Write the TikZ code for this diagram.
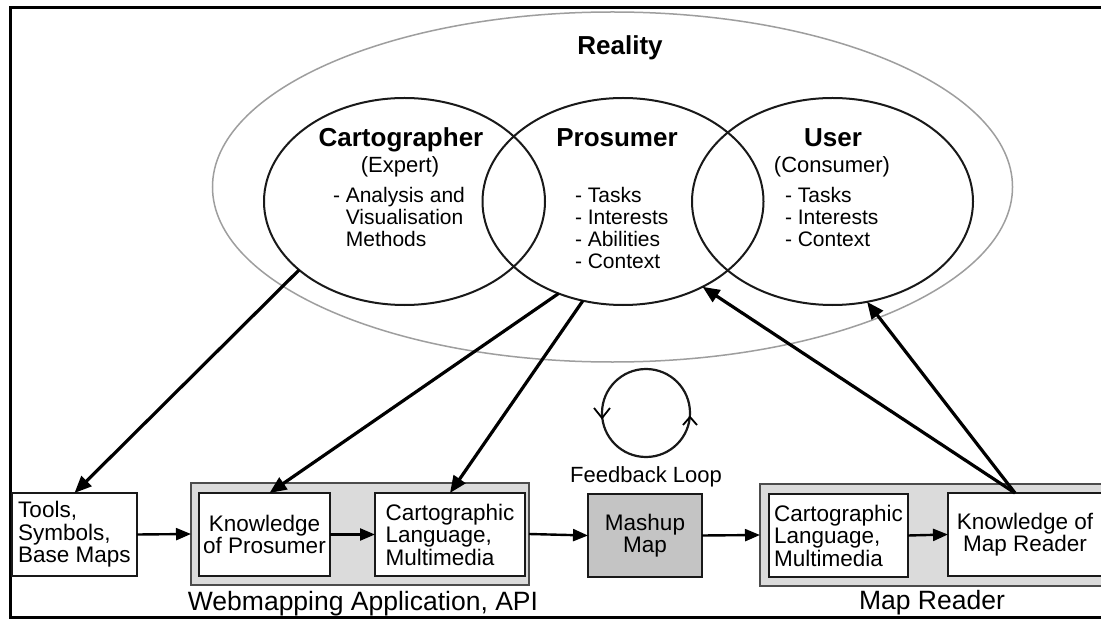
\documentclass[tikz,border=0pt]{standalone}
\usepackage{fontspec}
\setmainfont{Liberation Sans}
\usetikzlibrary{shapes.geometric,arrows.meta}
% stacked lines whose baseline is the baseline of the first line
\newcommand{\leftlines}[1]{\vtop{\halign{##\hfil\cr#1\crcr}}}

\begin{document}
\begin{tikzpicture}[x=1bp,y=-1bp,
  every node/.style={inner sep=0pt, outer sep=0pt},
  headtext/.style={font=\fontsize{26bp}{28bp}\selectfont\bfseries},
  subtext/.style={font=\fontsize{22bp}{24bp}\selectfont},
  listtext/.style={font=\fontsize{21bp}{21.7bp}\selectfont},
  labeltext/.style={font=\fontsize{26.5bp}{28bp}\selectfont},
  boxtext/.style={font=\fontsize{22.5bp}{22.5bp}\selectfont},
  venn/.style={ellipse, draw=black!90, line width=2bp, minimum width=281bp, minimum height=207bp},
  whitebox/.style={draw=black!90, line width=2bp, fill=white, minimum height=83bp, boxtext},
  graybox/.style={draw=black!70, line width=2.2bp, fill=black!14, minimum height=102bp},
  bigarrow/.style={line width=3.2bp, -{Triangle[length=17bp,width=14bp]}},
  smallarrow/.style={line width=2.4bp, -{Triangle[length=15bp,width=12bp]}}]

\useasboundingbox (0,0) rectangle (1101,619);
\clip (0,0) rectangle (1101,619);
\fill[white] (0,0) rectangle (1101,619);

% outer frame
\draw[line width=3bp] (1112,8) -- (10,8) -- (10,617) -- (1112,617);

% reality and the three actors
\node[ellipse, draw=black!38, line width=1.5bp, minimum width=800bp, minimum height=350bp] (reality) at (612.5,187) {};
\node[headtext, anchor=base] (realitylbl) at (620,55) {Reality};

\node[venn] (cart) at (404.5,201.5) {};
\node[venn] (pros) at (623,201.5) {};
\node[venn] (user) at (832.5,201.5) {};

\node[headtext, anchor=base] (carthead) at (401,147) {Cartographer};
\node[subtext, anchor=base] (cartsub) at (400,173) {(Expert)};
\node[listtext, anchor=base west] (cartlist) at (333,203)
  {\leftlines{- Analysis and\cr\hphantom{- }Visualisation\cr\hphantom{- }Methods}};

\node[headtext, anchor=base] (proshead) at (617,147) {Prosumer};
\node[listtext, anchor=base west] (proslist) at (575,203)
  {\leftlines{- Tasks\cr- Interests\cr- Abilities\cr- Context}};

\node[headtext, anchor=base] (userhead) at (833,147) {User};
\node[subtext, anchor=base] (usersub) at (832,173) {(Consumer)};
\node[listtext, anchor=base west] (userlist) at (785,203)
  {\leftlines{- Tasks\cr- Interests\cr- Context}};

% processing chain
\node[whitebox, minimum width=125bp, align=left] (tools) at (74.5,534.5) {Tools,\\Symbols,\\Base Maps};

\node[graybox, minimum width=338bp] (web) at (360,534) {};
\node[whitebox, minimum width=131bp, align=center] (kp) at (264.5,534.5) {Knowledge\\of Prosumer};
\node[whitebox, minimum width=150bp, align=left] (cl1) at (450,534.5) {Cartographic\\Language,\\Multimedia};
\node[labeltext, anchor=base] (weblbl) at (363,610) {Webmapping Application, API};

\node[whitebox, fill=black!23, minimum width=114bp, align=center] (mash) at (645,535.5) {Mashup\\Map};

\node[graybox, minimum width=346bp] (mr) at (933,535) {};
\node[whitebox, minimum width=139bp, align=left] (cl2) at (838.5,535.5) {Cartographic\\Language,\\Multimedia};
\node[whitebox, minimum width=154bp, align=center] (kmr) at (1025,534.5) {Knowledge of\\Map Reader};
\node[labeltext, anchor=base] (mrlbl) at (932,609) {Map Reader};

% feedback loop
\node[circle, draw=black!90, line width=2.2bp, minimum size=88bp] (loop) at (646,413) {};
\draw[line width=1.8bp] ([shift={(-8,-5)}]loop.west) -- ([shift={(0,5)}]loop.west) -- ([shift={(8,-5)}]loop.west);
\draw[line width=1.8bp] ([shift={(-7,12)}]loop.east) -- ([shift={(0,4)}]loop.east) -- ([shift={(7,12)}]loop.east);
\node[subtext, anchor=base] (looplbl) at (646,482) {Feedback Loop};

% flow along the chain
\draw[smallarrow] (tools.east) -- (web.west);
\draw[smallarrow] (kp.east) -- (cl1.west);
\draw[smallarrow] (web.east) -- (mash.west);
\draw[smallarrow] (mash.east) -- (mr.west);
\draw[smallarrow] (cl2.east) -- (kmr.west);

% links between actors and the chain
\draw[bigarrow] (cart.213) -- (tools.north);
\draw[bigarrow] (pros.235) -- ([xshift=5bp]kp.north);
\draw[bigarrow] (pros.248) -- (cl1.north);
\draw[bigarrow] ([xshift=-10bp]kmr.north) -- (pros.313);
\draw[bigarrow] ([xshift=-10bp]kmr.north) -- (user.289);

\end{tikzpicture}
\end{document}
